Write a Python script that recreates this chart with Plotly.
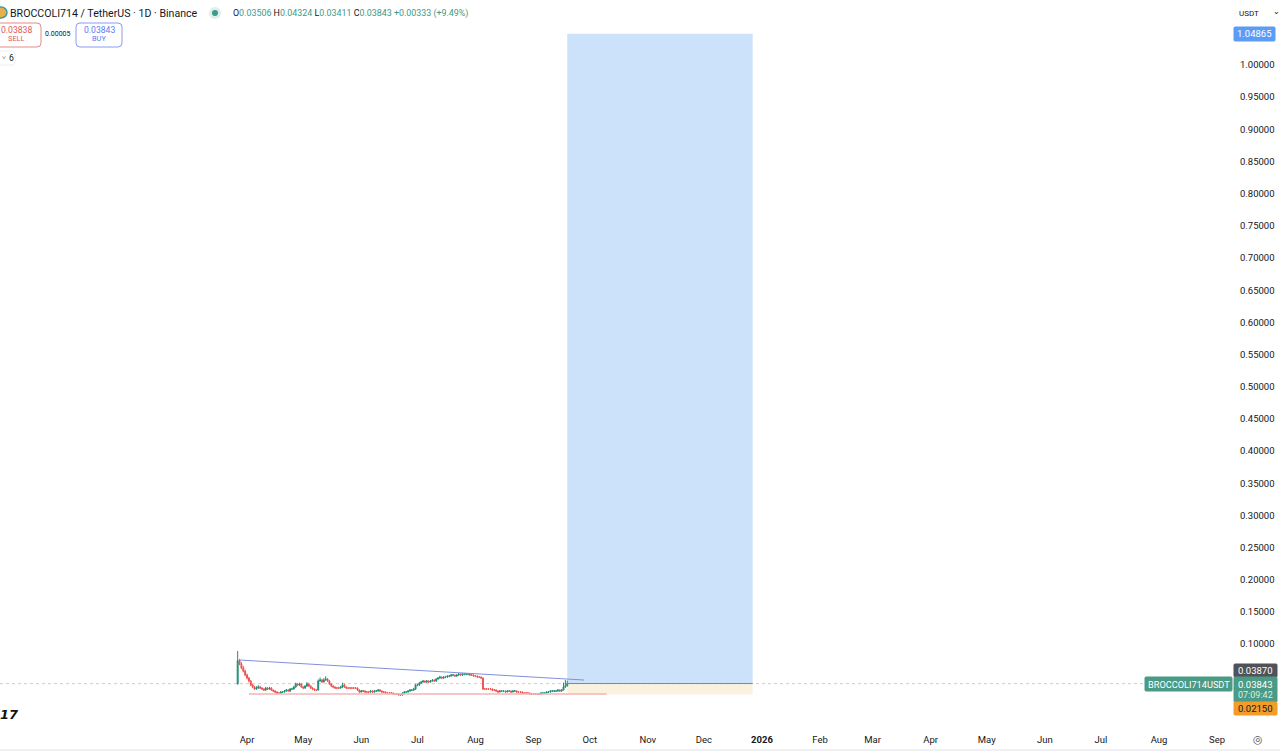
import plotly.graph_objects as go
import pandas as pd

W, H = 1280, 751
PLOT_W, PLOT_H = 1233, 727
GREEN = "#3c9a86"
FONT = "Roboto"

first_day = "2025-03-27"
first_open = 0.0379
closes = [
    .0745, .0690, .0628, .0581, .0519, .0472, .0426, .0364, .0333, .0302,
    .0317, .0333, .0317, .0302, .0286, .0317, .0302, .0317, .0286, .0270,
    .0255, .0239, .0239, .0255, .0255, .0270, .0286, .0270, .0302, .0302,
    .0333, .0379, .0364, .0379, .0333, .0317, .0348, .0379, .0348, .0317,
    .0302, .0286, .0286, .0426, .0441, .0410, .0441, .0457, .0426, .0379,
    .0348, .0333, .0317, .0317, .0317, .0333, .0364, .0333, .0317, .0317,
    .0317, .0317, .0317, .0317, .0286, .0255, .0270, .0270, .0255, .0255,
    .0255, .0270, .0255, .0270, .0270, .0286, .0270, .0255, .0255, .0239,
    .0239, .0239, .0239, .0224, .0224, .0224, .0208, .0208, .0239, .0255,
    .0255, .0270, .0286, .0286, .0302, .0364, .0364, .0395, .0410, .0426,
    .0410, .0426, .0410, .0426, .0441, .0426, .0457, .0472, .0488, .0472,
    .0488, .0488, .0503, .0503, .0519, .0519, .0503, .0519, .0534, .0519,
    .0534, .0534, .0534, .0534, .0519, .0519, .0503, .0503, .0488, .0488,
    .0472, .0302, .0302, .0302, .0302, .0302, .0286, .0286, .0270, .0255,
    .0270, .0270, .0270, .0255, .0270, .0270, .0255, .0270, .0270, .0255,
    .0255, .0255, .0239, .0239, .0239, .0239, .0224, .0224, .0224, .0224,
    .0224, .0224, .0239, .0239, .0239, .0255, .0255, .0270, .0270, .0270,
    .0270, .0286, .0270, .0286, .0333, .03506, .03843,
]
highs = [
    .0892, .0770, .0720, .0660, .0600, .0540, .0490, .0440, .0380, .0350,
    .0345, .0360, .0350, .0330, .0315, .0335, .0330, .0335, .0330, .0295,
    .0280, .0265, .0250, .0270, .0270, .0285, .0300, .0300, .0315, .0320,
    .0350, .0400, .0395, .0400, .0390, .0345, .0360, .0410, .0395, .0360,
    .0330, .0310, .0300, .0450, .0480, .0460, .0470, .0500, .0470, .0440,
    .0390, .0360, .0340, .0335, .0335, .0350, .0400, .0385, .0340, .0330,
    .0330, .0330, .0330, .0330, .0325, .0295, .0285, .0285, .0280, .0270,
    .0270, .0285, .0280, .0285, .0285, .0300, .0300, .0280, .0270, .0265,
    .0250, .0250, .0250, .0245, .0235, .0235, .0235, .0220, .0250, .0270,
    .0270, .0285, .0300, .0300, .0320, .0380, .0385, .0410, .0425, .0440,
    .0435, .0440, .0435, .0440, .0455, .0450, .0470, .0485, .0505, .0495,
    .0500, .0505, .0515, .0520, .0535, .0535, .0525, .0530, .0550, .0540,
    .0550, .0550, .0550, .0550, .0540, .0535, .0525, .0515, .0510, .0500,
    .0495, .0480, .0315, .0315, .0315, .0315, .0310, .0300, .0295, .0280,
    .0285, .0285, .0285, .0280, .0285, .0285, .0280, .0285, .0285, .0280,
    .0270, .0270, .0265, .0250, .0250, .0250, .0245, .0235, .0235, .0235,
    .0235, .0235, .0250, .0250, .0250, .0270, .0270, .0285, .0285, .0285,
    .0285, .0300, .0295, .0300, .0400, .0440, .04324,
]
lows = [
    .0370, .0670, .0610, .0560, .0500, .0450, .0405, .0345, .0315, .0285,
    .0290, .0305, .0300, .0285, .0270, .0275, .0285, .0290, .0270, .0255,
    .0240, .0225, .0225, .0225, .0240, .0245, .0260, .0260, .0255, .0285,
    .0290, .0320, .0345, .0350, .0320, .0300, .0305, .0335, .0335, .0300,
    .0285, .0270, .0270, .0275, .0415, .0395, .0400, .0430, .0410, .0365,
    .0330, .0315, .0300, .0300, .0300, .0305, .0320, .0320, .0300, .0300,
    .0300, .0300, .0300, .0300, .0270, .0240, .0245, .0255, .0240, .0240,
    .0240, .0245, .0240, .0245, .0255, .0260, .0255, .0240, .0240, .0225,
    .0225, .0225, .0225, .0215, .0215, .0215, .0200, .0195, .0200, .0225,
    .0240, .0245, .0260, .0270, .0270, .0285, .0345, .0350, .0380, .0400,
    .0395, .0400, .0395, .0400, .0415, .0410, .0415, .0445, .0460, .0455,
    .0460, .0470, .0475, .0485, .0490, .0500, .0490, .0490, .0505, .0505,
    .0505, .0515, .0515, .0515, .0505, .0505, .0490, .0490, .0475, .0475,
    .0460, .0285, .0285, .0285, .0285, .0285, .0270, .0270, .0255, .0240,
    .0250, .0255, .0255, .0240, .0250, .0255, .0240, .0250, .0255, .0240,
    .0240, .0240, .0225, .0225, .0225, .0225, .0210, .0210, .0210, .0210,
    .0210, .0210, .0215, .0225, .0225, .0230, .0240, .0245, .0255, .0255,
    .0255, .0260, .0255, .0260, .0280, .0320, .03411,
]

# time axis
month_ticks = ["2025-04-01", "2025-05-01", "2025-06-01", "2025-07-01", "2025-08-01", "2025-09-01",
               "2025-10-01", "2025-11-01", "2025-12-01", "2026-01-01", "2026-02-01", "2026-03-01",
               "2026-04-01", "2026-05-01", "2026-06-01", "2026-07-01", "2026-08-01", "2026-09-01"]
month_labels = ["Apr", "May", "Jun", "Jul", "Aug", "Sep", "Oct", "Nov", "Dec", "<b>2026</b>",
                "Feb", "Mar", "Apr", "May", "Jun", "Jul", "Aug", "Sep"]
x_range = ["2024-11-20 02:00", "2026-09-09 12:00"]

# price axis
price_ticks = [0.10, 0.15, 0.20, 0.25, 0.30, 0.35, 0.40, 0.45, 0.50, 0.55,
               0.60, 0.65, 0.70, 0.75, 0.80, 0.85, 0.90, 0.95, 1.00]
y_range = [-0.02891, 1.10102]

# drawings on the chart
entry_price = 0.03870
target_price = 1.04865
stop_price = 0.02150
last_price = 0.03843
last_line_end = "2026-07-24"
position_start = "2025-09-19"
position_end = "2025-12-27"
trend_dates = ["2025-03-28", "2025-09-28"]
trend_prices = [0.0752, 0.0441]
support_dates = ["2025-04-02", "2025-10-10"]
support_price = 0.0224


# annotations and shapes in paper units are relative to the plot area, so convert from page pixels
def fx(px):
    return px / PLOT_W


def fy(py):
    return 1 - py / PLOT_H


def label(text, x, y, size=9.5, color="#131722", anchor="left", bg=None, family=FONT):
    fig.add_annotation(text=text, x=fx(x), y=fy(y), xref="paper", yref="paper", showarrow=False,
                       xanchor=anchor, yanchor="middle", bgcolor=bg, borderpad=0,
                       font=dict(size=size, color=color, family=family))


def box(x0, y0, x1, y1, fill, line=None, r=0):
    # rounded box given in page pixels
    a, b, c, d = fx(x0), fy(y0), fx(x1), fy(y1)
    rx, ry = r / PLOT_W, r / PLOT_H
    path = (f"M {a + rx} {b} L {c - rx} {b} Q {c} {b} {c} {b - ry} L {c} {d + ry} Q {c} {d} {c - rx} {d} "
            f"L {a + rx} {d} Q {a} {d} {a} {d + ry} L {a} {b - ry} Q {a} {b} {a + rx} {b} Z")
    fig.add_shape(type="path", path=path, xref="paper", yref="paper", fillcolor=fill,
                  line=dict(color=line or fill, width=1), layer="above")


days = pd.date_range(first_day, periods=len(closes), freq="D")
opens = [first_open] + closes[:-1]

fig = go.Figure(go.Candlestick(
    x=days, open=opens, high=highs, low=lows, close=closes,
    increasing=dict(line=dict(color="#1f8f78", width=1), fillcolor="#1f8f78"),
    decreasing=dict(line=dict(color="#ef5350", width=1), fillcolor="#ef5350"),
    showlegend=False,
))

# long position tool
fig.add_shape(type="rect", x0=position_start, x1=position_end, y0=entry_price, y1=target_price,
              fillcolor="#cce2fa", line_width=0, layer="below")
fig.add_shape(type="rect", x0=position_start, x1=position_end, y0=stop_price, y1=entry_price,
              fillcolor="#fbf1df", line_width=0, layer="below")
fig.add_shape(type="line", x0=position_start, x1=position_end, y0=entry_price, y1=entry_price,
              line=dict(color="#7d8a90", width=1))
# last price line
fig.add_shape(type="line", x0=x_range[0], x1=last_line_end, y0=last_price, y1=last_price,
              line=dict(color="#c9cdd1", width=1, dash="dot"), layer="below")
# trend line and support line
fig.add_shape(type="line", x0=trend_dates[0], x1=trend_dates[1], y0=trend_prices[0], y1=trend_prices[1],
              line=dict(color="#7f8fe0", width=1))
fig.add_shape(type="line", x0=support_dates[0], x1=support_dates[1], y0=support_price, y1=support_price,
              line=dict(color="#f5b5b5", width=1.5))

fig.update_layout(
    width=W, height=H,
    margin=dict(l=0, r=W - PLOT_W, t=0, b=H - PLOT_H),
    paper_bgcolor="white", plot_bgcolor="white",
    font=dict(family=FONT, size=9.5, color="#131722"),
    xaxis=dict(type="date", range=x_range, rangeslider=dict(visible=False), showgrid=False, zeroline=False,
               tickmode="array", tickvals=month_ticks, ticktext=month_labels, ticks="", showline=False,
               ticklabelstandoff=5),
    yaxis=dict(side="right", range=y_range, showgrid=False, zeroline=False, showline=False,
               tickmode="array", tickvals=price_ticks, ticktext=[f"{v:.5f}" for v in price_ticks], ticks="",
               ticklabelstandoff=6),
)

# bottom edge of the page
fig.add_shape(type="line", xref="paper", yref="paper", x0=0, x1=W / PLOT_W, y0=fy(750), y1=fy(750),
              line=dict(color="#e0e3eb", width=1))

# header
fig.add_shape(type="circle", xref="paper", yref="paper", x0=fx(-5), x1=fx(7), y0=fy(18), y1=fy(7),
              fillcolor="#e8b04a", line=dict(color="#3f9aa0", width=1.5))
label("BROCCOLI714 / TetherUS · 1D · Binance", 9, 13, size=10.6)
fig.add_shape(type="circle", xref="paper", yref="paper", x0=fx(209), x1=fx(221), y0=fy(19), y1=fy(7),
              fillcolor="#dfeeea", line_width=0)
fig.add_shape(type="circle", xref="paper", yref="paper", x0=fx(212), x1=fx(218), y0=fy(16), y1=fy(10),
              fillcolor=GREEN, line_width=0)
val = f'<span style="color:{GREEN}">%s</span>'
label("O" + val % "0.03506" + " H" + val % "0.04324" + " L" + val % "0.03411" + " C" + val % "0.03843"
      + " " + val % "+0.00333 (+9.49%)", 232, 13, size=8.9)

box(-4, 23, 41, 47, "white", line="#e58a8a", r=4)
label("0.03838", 16, 30, size=8.6, color="#e05a5a", anchor="center")
label("SELL", 16, 39, size=7.4, color="#e05a5a", anchor="center")
label("0.00005", 58, 34, size=7, anchor="center")
box(76, 23, 122, 47, "white", line="#8c9cf0", r=4)
label("0.03843", 99, 30, size=8.6, color="#5d7cf0", anchor="center")
label("BUY", 99, 39, size=7.4, color="#5d7cf0", anchor="center")
box(-4, 51, 15, 65, "white", line="#eceef2", r=3)
label("˅", 1, 58, size=7, color="#333333")
label("6", 8, 58, size=8.6)

# logo at the bottom left
label("<b><i>17</i></b>", 9, 714, size=13, color="#111111", anchor="center", family="DejaVu Sans")

# price axis labels
label("USDT", 1238, 13, size=8)
label("⌄", 1276, 11, size=8, anchor="center")
box(1234, 27, 1275, 41, "#5b9cf6", r=1)
label("1.04865", 1254.5, 34, color="white", anchor="center", size=9.5)
box(1234, 664, 1277, 677, "#4f5258", r=1)
label("0.03870", 1255.5, 670.5, color="white", anchor="center", size=9.5)
box(1234, 677, 1277, 702, "#4a9a86", r=1)
label("0.03843", 1255.5, 684, color="white", anchor="center", size=9.5)
label("07:09:42", 1255.5, 695, color="#d8efe8", anchor="center", size=9)
box(1234, 702, 1277, 715, "#f29d2a", r=1)
label("0.02150", 1255.5, 708.5, color="#131722", anchor="center", size=9.5)
box(1145, 677, 1232, 691, "#4a9a86", r=1)
label("BROCCOLI714USDT", 1188.5, 684, color="white", anchor="center", size=9.2)

# settings icon under the price axis
label("◎", 1258, 739, size=11, color="#555555", anchor="center", family="DejaVu Sans")

fig.write_html("out.html", config={"displayModeBar": False},
               post_script="document.body.style.margin='0';window.dispatchEvent(new Event('resize'));")
